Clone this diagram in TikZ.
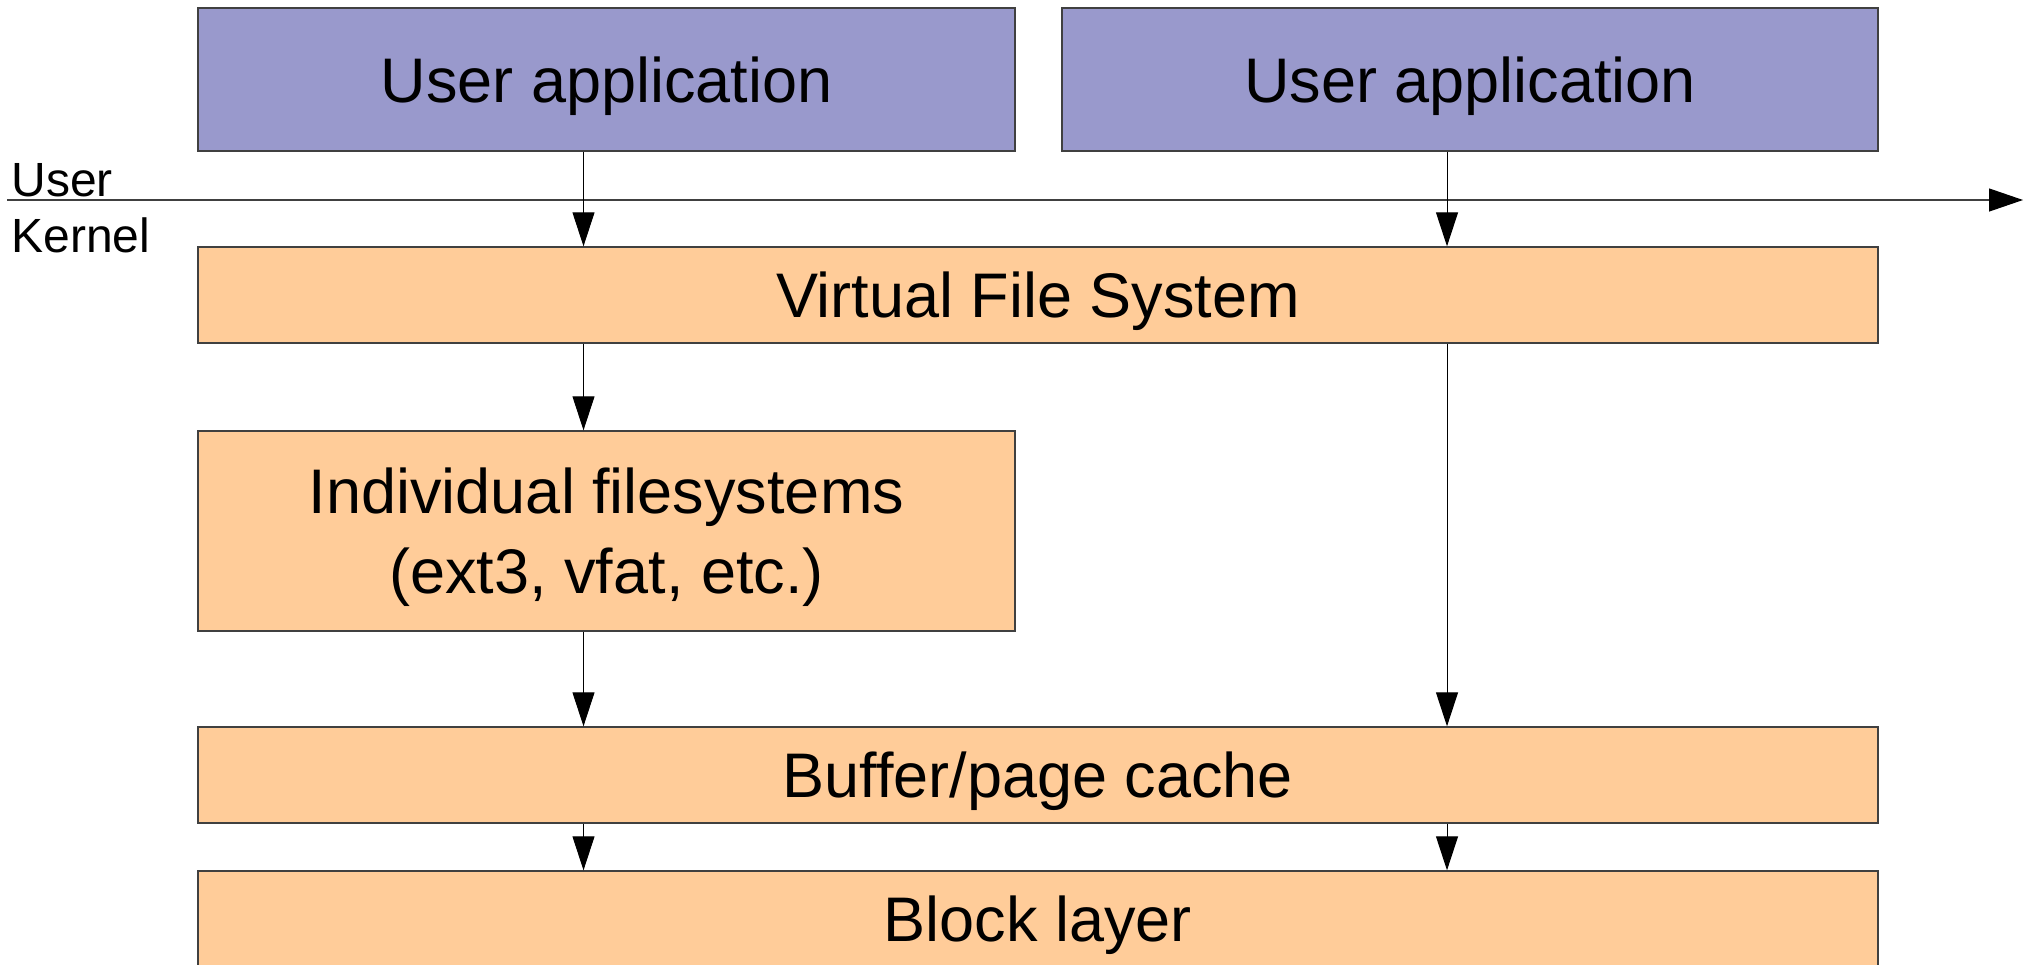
\documentclass[tikz,border=0pt]{standalone}
\usepackage{fontspec}
\setmainfont{Liberation Sans}
\usetikzlibrary{arrows.meta}
\definecolor{userblue}{HTML}{9999CC}
\definecolor{kernorange}{HTML}{FFCC99}
\definecolor{edgegray}{HTML}{404040}
\begin{document}
\begin{tikzpicture}[x=0.5pt,y=-0.5pt,
  box/.style={draw=edgegray, line width=0.7pt, inner sep=0pt, align=center,
    text height=22.5pt, text depth=0pt,
    font=\fontsize{31.5pt}{40pt}\selectfont},
  ubox/.style={box, fill=userblue},
  kbox/.style={box, fill=kernorange},
  arr/.style={draw=black, line width=0.5pt, -{Triangle[length=17pt,width=11pt]}},
  lbl/.style={inner sep=0pt, anchor=base west, font=\fontsize{24pt}{29pt}\selectfont}
]
\useasboundingbox (0,0) rectangle (2029,964);
\node[ubox, minimum width=408.5pt, minimum height=71.5pt] (ua1) at (606.5,79.5) {User application};
\node[ubox, minimum width=408pt, minimum height=71.5pt] (ua2) at (1470,79.5) {User application};
\node[kbox, minimum width=840pt, minimum height=48pt] (vfs) at (1038,295) {Virtual File System};
\node[kbox, minimum width=408.5pt, minimum height=100pt, text height=62.5pt] (ifs) at (606.5,531) {Individual filesystems\\(ext3, vfat, etc.)};
\node[kbox, minimum width=840pt, minimum height=48pt] (bpc) at (1038,775) {Buffer/page cache};
\node[kbox, minimum width=840pt, minimum height=48pt] (blk) at (1038,919) {Block layer};
\node[lbl] (user) at (11,196) {User};
\node[lbl] (kernel) at (11,252) {Kernel};
\coordinate (ls) at (7,200);
\coordinate (le) at (2023,200);
\draw[draw=edgegray, line width=0.6pt, -{Triangle[length=17pt,width=11.5pt,color=black]}] (ls) -- (le);
\coordinate (cl) at (583.5,0);
\coordinate (cr) at (1447,0);
\draw[arr] (ua1.south -| cl) -- (vfs.north -| cl);
\draw[arr] (ua2.south -| cr) -- (vfs.north -| cr);
\draw[arr] (vfs.south -| cl) -- (ifs.north -| cl);
\draw[arr] (vfs.south -| cr) -- (bpc.north -| cr);
\draw[arr] (ifs.south -| cl) -- (bpc.north -| cl);
\draw[arr] (bpc.south -| cl) -- (blk.north -| cl);
\draw[arr] (bpc.south -| cr) -- (blk.north -| cr);
\end{tikzpicture}
\end{document}
